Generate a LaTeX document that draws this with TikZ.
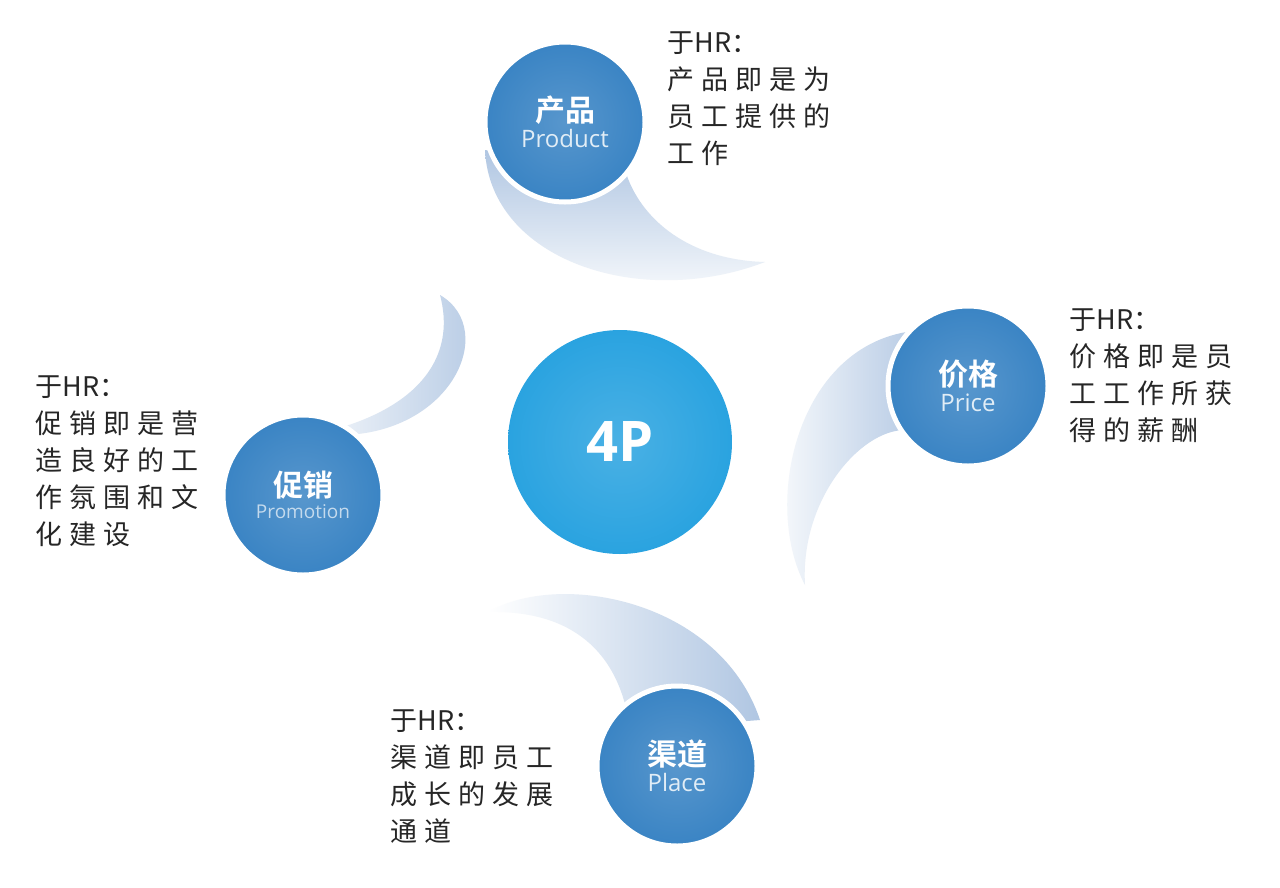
\documentclass[tikz,border=0pt]{standalone}
\usepackage{fontspec}
\newfontfamily\cjk{Noto Sans CJK SC}
\newfontfamily\cjkb{Noto Sans CJK SC Bold}
\newfontfamily\lat{Open Sans}
\definecolor{pc}{HTML}{3A84C4}
\definecolor{cc}{HTML}{2AA3E0}
\definecolor{sw}{HTML}{B0C6E2}
\newcommand{\hr}{{\addfontfeature{LetterSpace=0}HR}}
\begin{document}
\begin{tikzpicture}[x=1pt,y=-1pt,
 pcirc/.style={circle,draw=white,line width=5pt,inner color=pc!85,outer color=pc,minimum size=160pt,align=center,text=white},
 desc/.style={anchor=north west,align=left,font=\cjk\fontsize{27}{37}\selectfont\addfontfeature{LetterSpace=26},text=black!85},
 swoosh/.style={left color=sw, right color=white, draw=none}]
\useasboundingbox (0,0) rectangle (1280,887);
\fill[white] (0,0) rectangle (1280,887);
% swooshes
\path[swoosh,shading angle=0] (485,150) .. controls (490,260) and (640,310) .. (765,262) .. controls (690,260) and (640,220) .. (625,170) -- cycle;
\path[swoosh,left color=white,right color=sw] (930,330) .. controls (800,330) and (760,500) .. (805,585) .. controls (800,500) and (860,430) .. (905,430) -- cycle;
\path[swoosh,left color=white,right color=sw] (330,435) .. controls (450,440) and (500,330) .. (440,295) .. controls (460,370) and (400,425) .. (280,440) -- cycle;
\path[swoosh,shading angle=90,left color=white,right color=sw] (760,720) .. controls (720,600) and (560,570) .. (488,612) .. controls (570,610) and (620,650) .. (630,730) -- cycle;
% circles
\node[pcirc] (prod) at (565,122) {{\cjkb\fontsize{30}{32}\selectfont 产品}\\[4pt]{\lat\fontsize{24}{26}\selectfont\color{white!85!pc} Product}};
\node[pcirc] (price) at (968,386) {{\cjkb\fontsize{30}{32}\selectfont 价格}\\[4pt]{\lat\fontsize{24}{26}\selectfont\color{white!85!pc} Price}};
\node[pcirc] (promo) at (303,495) {{\cjkb\fontsize{30}{32}\selectfont 促销}\\[4pt]{\lat\fontsize{19}{22}\selectfont\color{white!70!pc} Promotion}};
\node[pcirc] (place) at (677,766) {{\cjkb\fontsize{30}{32}\selectfont 渠道}\\[4pt]{\lat\fontsize{24}{26}\selectfont\color{white!85!pc} Place}};
\node[circle,inner color=cc!85,outer color=cc,minimum size=224pt,text=white,font=\lat\bfseries\fontsize{56}{60}\selectfont] (c) at (620,442) {4P};
% texts
\node[desc] (tprod) at (664,28) {于\hr：\\产品即是为\\员工提供的\\工作};
\node[desc] (tprice) at (1066,305) {于\hr：\\价格即是员\\工工作所获\\得的薪酬};
\node[desc] (tpromo) at (32,372) {于\hr：\\促销即是营\\造良好的工\\作氛围和文\\化建设};
\node[desc] (tplace) at (387,706) {于\hr：\\渠道即员工\\成长的发展\\通道};
\end{tikzpicture}
\end{document}
